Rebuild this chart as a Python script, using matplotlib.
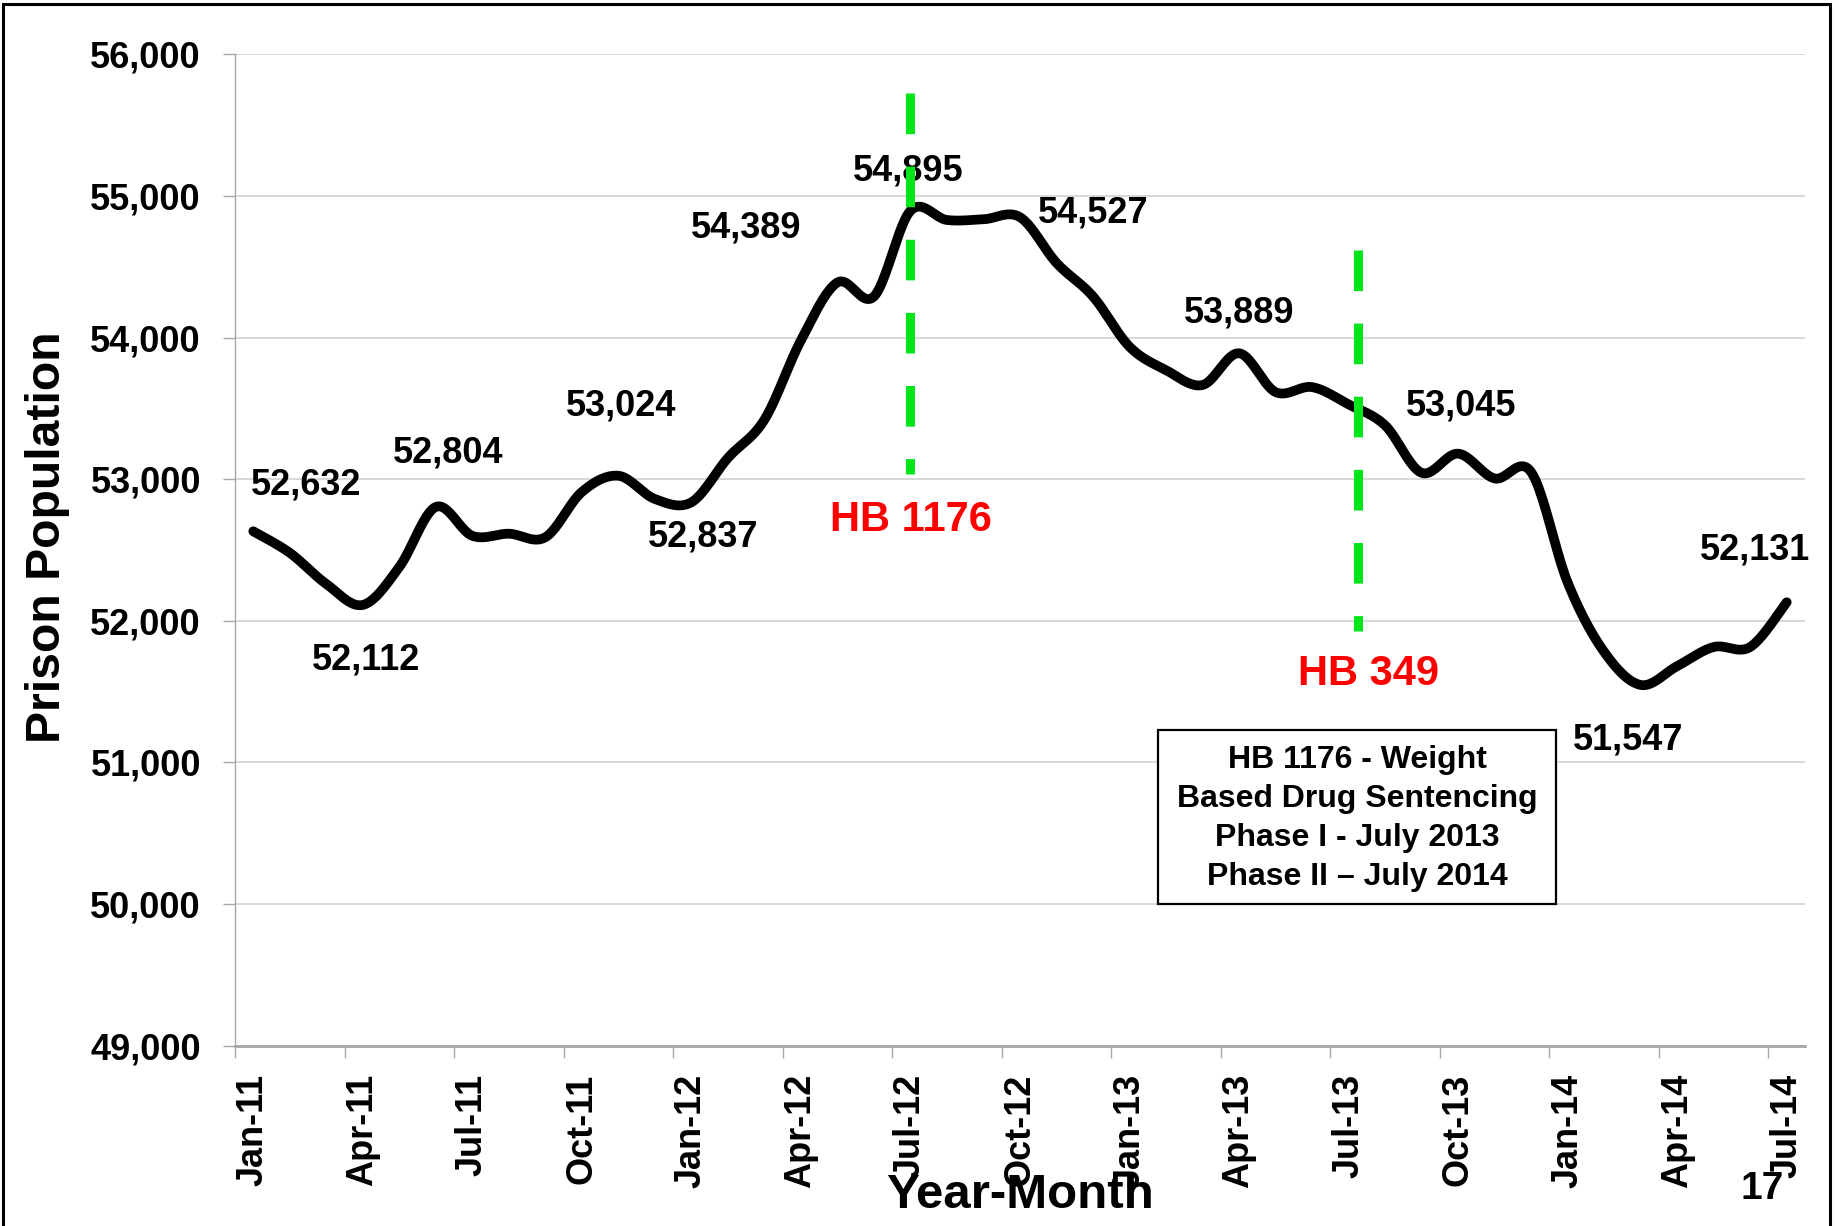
import numpy as np
import matplotlib
matplotlib.use("Agg")
import matplotlib.pyplot as plt
from matplotlib.patches import Rectangle

plt.rcParams['font.family'] = ['Liberation Sans', 'DejaVu Sans']
plt.rcParams['font.weight'] = 'bold'

# monthly prison population, Jan-11 .. Jul-14
months = ["Jan-11", "Feb-11", "Mar-11", "Apr-11", "May-11", "Jun-11", "Jul-11", "Aug-11", "Sep-11",
          "Oct-11", "Nov-11", "Dec-11", "Jan-12", "Feb-12", "Mar-12", "Apr-12", "May-12", "Jun-12",
          "Jul-12", "Aug-12", "Sep-12", "Oct-12", "Nov-12", "Dec-12", "Jan-13", "Feb-13", "Mar-13",
          "Apr-13", "May-13", "Jun-13", "Jul-13", "Aug-13", "Sep-13", "Oct-13", "Nov-13", "Dec-13",
          "Jan-14", "Feb-14", "Mar-14", "Apr-14", "May-14", "Jun-14", "Jul-14"]
population = [52632, 52480, 52260, 52112, 52380, 52804, 52600, 52615, 52590,
              52910, 53024, 52860, 52837, 53150, 53420, 53980, 54389, 54290,
              54895, 54830, 54835, 54850, 54527, 54290, 53935, 53770, 53665,
              53889, 53615, 53650, 53528, 53380, 53045, 53180, 53005, 53050,
              52270, 51780, 51547, 51680, 51815, 51815, 52131]

# months that get a value label
labeled_months = ["Jan-11", "Apr-11", "Jun-11", "Nov-11", "Jan-12", "May-12", "Jul-12",
                  "Nov-12", "Apr-13", "Sep-13", "Mar-14", "Jul-14"]
tick_months = ["Jan-11", "Apr-11", "Jul-11", "Oct-11", "Jan-12", "Apr-12", "Jul-12", "Oct-12",
               "Jan-13", "Apr-13", "Jul-13", "Oct-13", "Jan-14", "Apr-14", "Jul-14"]
y_ticks = [49000, 50000, 51000, 52000, 53000, 54000, 55000, 56000]

# law markers
laws = ["HB 1176", "HB 349"]
law_months = ["Jul-12", "Jul-13"]

box_lines = ["HB 1176 - Weight", "Based Drug Sentencing", "Phase I - July 2013", "Phase II \u2013 July 2014"]

# label offsets (x in months, y in people) from each labelled point
label_offsets = [(1.46, 328), (0.1, -389), (0.34, 380), (0.07, 493), (0.31, -242), (-2.5, 382),
                 (-0.07, 283), (1.0, 352), (0.0, 284), (1.09, 472), (-0.35, -389), (-0.88, 372)]
# dashed line: x shift, top, bottom ; then text position (x shift, y)
law_lines = [(0.0, 55724, 53040), (0.25, 54619, 51928)]
law_text = [(0.0, 52711), (0.55, 51623)]


def smooth(xs, ys, n=24):
    # excel-like smoothed line (catmull-rom bezier)
    xs = np.asarray(xs, float)
    ys = np.asarray(ys, float)
    px = np.concatenate([[xs[0]], xs, [xs[-1]]])
    py = np.concatenate([[ys[0]], ys, [ys[-1]]])
    t = np.linspace(0, 1, n)
    out_x, out_y = [], []
    for k in range(len(xs) - 1):
        p0 = np.array([px[k], py[k]])
        p1 = np.array([px[k + 1], py[k + 1]])
        p2 = np.array([px[k + 2], py[k + 2]])
        p3 = np.array([px[k + 3], py[k + 3]])
        c1 = p1 + (p2 - p0) / 6
        c2 = p2 - (p3 - p1) / 6
        b = ((1 - t) ** 3)[:, None] * p1 + (3 * (1 - t) ** 2 * t)[:, None] * c1 \
            + (3 * (1 - t) * t ** 2)[:, None] * c2 + (t ** 3)[:, None] * p2
        out_x.extend(b[:, 0])
        out_y.extend(b[:, 1])
    return out_x, out_y


fig = plt.figure(figsize=(18.39, 12.26), dpi=100)
ax = fig.add_axes([0.1278, 0.1471, 0.8537, 0.8086])

x = np.arange(len(months))
sx, sy = smooth(x, population)
ax.plot(sx, sy, color='black', lw=7, solid_capstyle='round', solid_joinstyle='round', zorder=3)

# value labels
for m, (dx, dy) in zip(labeled_months, label_offsets):
    i = months.index(m)
    ax.text(i + dx, population[i] + dy, f"{population[i]:,}", ha='center', va='center',
            fontsize=26, fontweight='bold', color='black', zorder=4)

# green dashed lines for the laws
for law, m, (shift, top, bot), (tx, ty) in zip(laws, law_months, law_lines, law_text):
    i = months.index(m)
    ax.plot([i + shift, i + shift], [top, bot], color='#00e61a', lw=6.5, dashes=(4.5, 3.6), zorder=5)
    ax.text(i + tx, ty, law, ha='center', va='center', fontsize=30, fontweight='bold',
            color='red', zorder=4)

# info box
ax.add_patch(Rectangle((24.78, 50000), 10.9, 1227, facecolor='white', edgecolor='black', lw=1.6, zorder=4))
for k, line in enumerate(box_lines):
    ax.text(30.23, 51016 - k * 274, line, ha='center', va='center', fontsize=23,
            fontweight='bold', zorder=5)

ax.set_xlim(-0.5, len(months) - 0.5)
ax.set_ylim(49000, 56000)
ax.set_yticks(y_ticks)
ax.set_yticklabels([f"{v:,}" for v in y_ticks], fontsize=26, fontweight='bold')
ax.set_xticks([months.index(m) for m in tick_months])
ax.set_xticklabels(tick_months, rotation=90, fontsize=26, fontweight='bold', va='top')
ax.set_xticks([months.index(m) - 0.5 for m in tick_months], minor=True)
ax.tick_params(axis='x', which='major', length=0, pad=20)
ax.tick_params(axis='x', which='minor', length=8.5, width=1, color='#a6a6a6', direction='out')
ax.tick_params(axis='y', length=8.5, width=1, color='#a6a6a6', pad=16)

ax.grid(axis='y', color='#d4d4d4', lw=1.3)
ax.set_axisbelow(True)
for side in ['top', 'right']:
    ax.spines[side].set_visible(False)
ax.spines['left'].set_color('#a6a6a6')
ax.spines['left'].set_linewidth(1)
ax.spines['bottom'].set_color('#a6a6a6')
ax.spines['bottom'].set_linewidth(2)

fig.text(0.0256, 0.562, "Prison Population", rotation=90, ha='center', va='center',
         fontsize=34.7, fontweight='bold')
fig.text(0.5547, 0.0245, "Year-Month", ha='center', va='center', fontsize=35.5, fontweight='bold')
fig.text(0.958, 0.030, "17", ha='center', va='center', fontsize=28, fontweight='bold')

# slide border
fig.patches.append(Rectangle((0.0018, -0.05), 0.9935, 1.047, transform=fig.transFigure,
                             fill=False, edgecolor='black', lw=2.2))

fig.savefig("out.png", dpi=100)
